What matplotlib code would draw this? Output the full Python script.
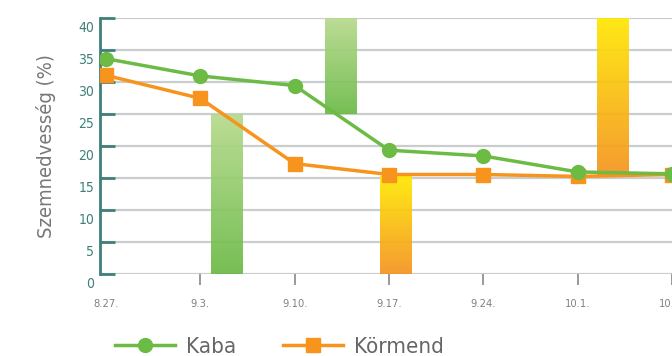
import matplotlib
matplotlib.use('Agg')
import matplotlib.pyplot as plt
import matplotlib.transforms as mtransforms
from matplotlib.colors import LinearSegmentedColormap
from matplotlib.lines import Line2D
import numpy as np

plt.rcParams['font.family'] = ['DejaVu Sans']
plt.rcParams['font.stretch'] = 'condensed'

# Dátumok és szemnedvesség értékek
datumok = ['8.27.', '9.3.', '9.10.', '9.17.', '9.24.', '10.1.', '10.8.']
kaba = [33.6, 30.9, 29.4, 19.3, 18.4, 15.9, 15.6]
kormend = [31.0, 27.4, 17.2, 15.5, 15.5, 15.2, 15.5]

# Sávok: bal szél, jobb szél (kategória egységben), alsó és felső érték
sav_bal = [1.11, 2.32, 2.91, 5.21]
sav_jobb = [1.44, 2.65, 3.24, 5.54]
sav_also = [0, 25, 0, 15.2]
sav_felso = [25, 40, 15.3, 40]
sav_szin = ['zold', 'zold', 'narancs', 'narancs']

ZOLD = '#6cbb45'
NARANCS = '#f7941d'
TEAL = '#3f7f7a'

gradiensek = {
    'zold': LinearSegmentedColormap.from_list('zold', ['#6ab945', '#b6da8c']),
    'narancs': LinearSegmentedColormap.from_list('narancs', ['#f5921e', '#ffe800']),
}

fig = plt.figure(figsize=(6.72, 3.56), dpi=100)
ax = fig.add_axes([100 / 672, 82.3 / 356, 1 - 100 / 672, 256 / 356])

x = np.arange(len(datumok))

# rácsvonalak
for v in range(0, 41, 5):
    ax.axhline(v, color='#c9cdcd', lw=1.6, zorder=1)

# színátmenetes sávok
grad = np.linspace(0, 1, 256).reshape(-1, 1)
for bal, jobb, also, felso, szin in zip(sav_bal, sav_jobb, sav_also, sav_felso, sav_szin):
    ax.imshow(grad, extent=(bal, jobb, also, felso), origin='lower', aspect='auto',
              cmap=gradiensek[szin], alpha=0.92, zorder=2, interpolation='bilinear')

ax.plot(x, kaba, color=ZOLD, lw=2.5, marker='o', ms=10, zorder=4)
ax.plot(x, kormend, color=NARANCS, lw=2.5, marker='s', ms=10.5, zorder=3)

ax.set_xlim(-0.063, 5.977)
ax.set_ylim(0, 40)

for s in ['top', 'right', 'bottom']:
    ax.spines[s].set_visible(False)
ax.spines['left'].set_color(TEAL)
ax.spines['left'].set_linewidth(2)

ax.set_yticks(range(0, 41, 5))
ax.tick_params(axis='y', direction='in', length=11, width=2, color=TEAL,
               labelcolor=TEAL, labelsize=10, pad=4)
eltolas = mtransforms.ScaledTranslation(0, -9 / 100, fig.dpi_scale_trans)
for lab in ax.get_yticklabels():
    lab.set_transform(lab.get_transform() + eltolas)

ax.set_xticks(x)
ax.set_xticklabels(datumok)
ax.tick_params(axis='x', direction='out', length=8, width=1.2, color='#888888',
               labelcolor='#808080', labelsize=8, pad=10)
ax.xaxis.get_major_ticks()[0].tick1line.set_visible(False)

ax.set_ylabel('Szemnedvesség (%)', fontsize=14.5, color='#777777', labelpad=16)

# jelmagyarázat
jel = [Line2D([], [], color=ZOLD, lw=2.5, marker='o', ms=10),
       Line2D([], [], color=NARANCS, lw=2.5, marker='s', ms=10.5)]
fig.legend(jel, ['Kaba', 'Körmend'], loc='center left', bbox_to_anchor=(106 / 672, 9 / 356),
           ncol=2, frameon=False, fontsize=16, labelcolor='#666666',
           handlelength=2.7, handletextpad=0.5, columnspacing=2.1, borderaxespad=0)

fig.savefig('out.png', dpi=100)
